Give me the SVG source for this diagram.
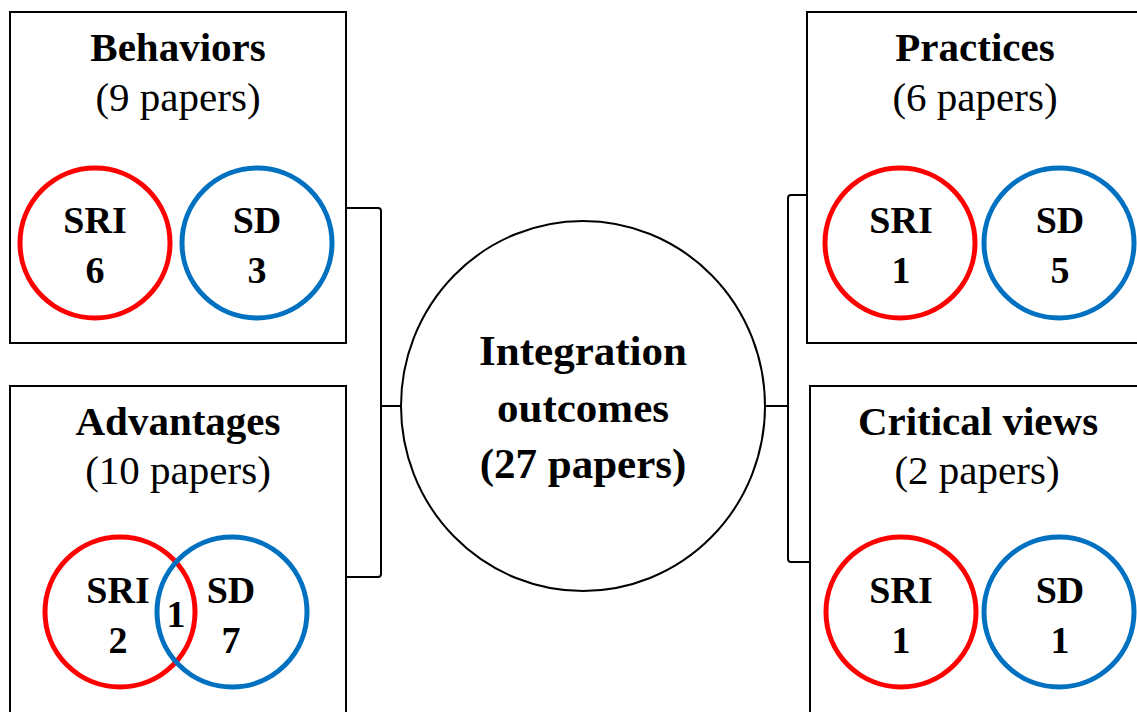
<svg xmlns="http://www.w3.org/2000/svg" width="1137" height="712" viewBox="0 0 1137 712">
<style>
.box{fill:#fff;stroke:#000;stroke-width:2}
.red{fill:none;stroke:#ff0000;stroke-width:5}
.blue{fill:none;stroke:#0070c0;stroke-width:5}
.conn{fill:none;stroke:#000;stroke-width:2}
text{font-family:"Liberation Serif","Times New Roman",serif;text-anchor:middle;fill:#000}
.h{font-weight:bold;font-size:41px}
.s{font-size:41px}
.c{font-weight:bold;font-size:38px}
.m{font-weight:bold;font-size:43px}
</style>
<rect width="1137" height="712" fill="#fff"/>
<g id="connectors">
<path class="conn" d="M346,208 H378 Q381,208 381,211 V574 Q381,577 378,577 H346"/>
<path class="conn" d="M381,406 H401"/>
<path class="conn" d="M807,195 H791 Q788,195 788,198 V559 Q788,562 791,562 H810"/>
<path class="conn" d="M765,406 H788"/>
</g>
<g id="behaviors">
<rect class="box" x="10" y="12" width="336" height="331"/>
<text class="h" x="178" y="61">Behaviors</text>
<text class="s" x="178" y="111">(9 papers)</text>
<circle class="red" cx="95" cy="243" r="75"/>
<circle class="blue" cx="257" cy="243" r="75"/>
<text class="c" x="95" y="233">SRI</text>
<text class="c" x="95" y="283">6</text>
<text class="c" x="257" y="233">SD</text>
<text class="c" x="257" y="283">3</text>
</g>
<g id="advantages">
<rect class="box" x="10" y="386" width="336" height="340"/>
<text class="h" x="178" y="435">Advantages</text>
<text class="s" x="178" y="484">(10 papers)</text>
<circle class="red" cx="120" cy="612" r="75"/>
<circle class="blue" cx="232" cy="612" r="75"/>
<text class="c" x="118" y="603">SRI</text>
<text class="c" x="118" y="653">2</text>
<text class="c" x="176" y="627">1</text>
<text class="c" x="231" y="603">SD</text>
<text class="c" x="231" y="653">7</text>
</g>
<g id="practices">
<rect class="box" x="807" y="12" width="340" height="331"/>
<text class="h" x="975" y="61">Practices</text>
<text class="s" x="975" y="111">(6 papers)</text>
<circle class="red" cx="900" cy="243" r="75"/>
<circle class="blue" cx="1059" cy="243" r="75"/>
<text class="c" x="901" y="233">SRI</text>
<text class="c" x="901" y="283">1</text>
<text class="c" x="1060" y="233">SD</text>
<text class="c" x="1060" y="283">5</text>
</g>
<g id="critical-views">
<rect class="box" x="810" y="386" width="340" height="340"/>
<text class="h" x="978" y="435">Critical views</text>
<text class="s" x="977" y="484">(2 papers)</text>
<circle class="red" cx="901" cy="612" r="75"/>
<circle class="blue" cx="1059" cy="612" r="75"/>
<text class="c" x="901" y="603">SRI</text>
<text class="c" x="901" y="653">1</text>
<text class="c" x="1060" y="603">SD</text>
<text class="c" x="1060" y="653">1</text>
</g>
<g id="integration-outcomes">
<ellipse cx="583" cy="406" rx="182" ry="185" fill="#fff" stroke="#000" stroke-width="2"/>
<text class="m" x="583" y="365">Integration</text>
<text class="m" x="583" y="422">outcomes</text>
<text class="m" x="583" y="478">(27 papers)</text>
</g>
</svg>
